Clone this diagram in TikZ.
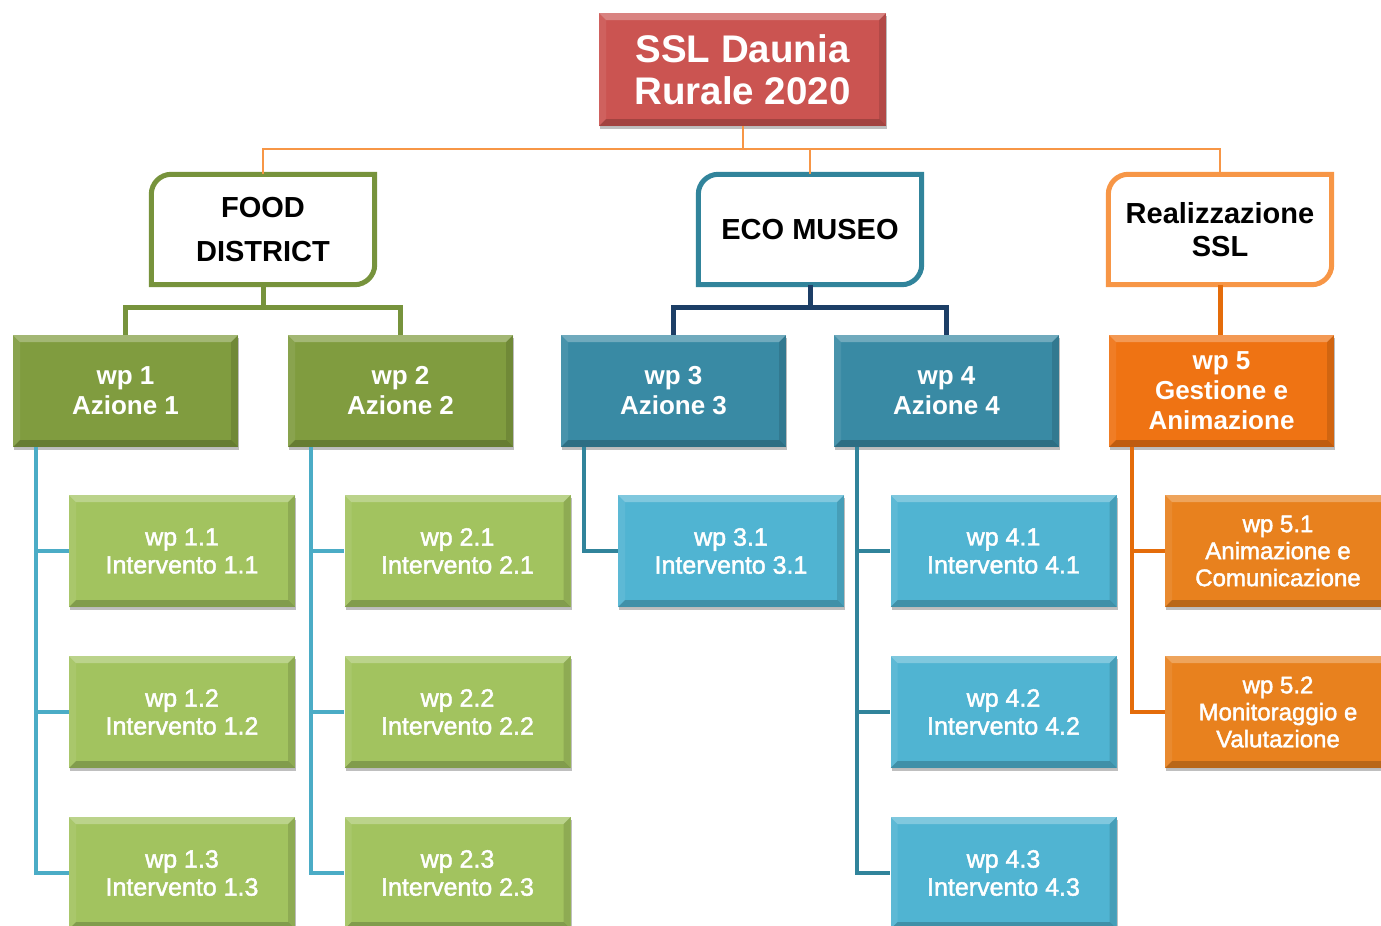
\documentclass[tikz,border=0pt]{standalone}
\usepackage{fontspec}
\setmainfont{Liberation Sans}
\newfontfamily\medfont[FakeBold=1.8]{Liberation Sans}
\usetikzlibrary{calc,shadows}

\definecolor{titlered}{RGB}{203,84,81}
\definecolor{olive}{RGB}{119,147,60}
\definecolor{olivebox}{RGB}{128,156,63}
\definecolor{limebox}{RGB}{162,195,95}
\definecolor{tealline}{RGB}{49,132,155}
\definecolor{tealbox}{RGB}{57,138,164}
\definecolor{skybox}{RGB}{80,180,210}
\definecolor{skyline}{RGB}{75,172,198}
\definecolor{navyline}{RGB}{28,62,102}
\definecolor{lightorange}{RGB}{247,150,70}
\definecolor{deeporange}{RGB}{228,108,10}
\definecolor{orangebox}{RGB}{239,115,19}
\definecolor{orangesub}{RGB}{232,129,30}

\tikzset{
  bevel/.style={path picture={
    \fill[white,opacity=.28] (path picture bounding box.north west) -- (path picture bounding box.north east)
      -- ([xshift=-7pt,yshift=-7pt]path picture bounding box.north east)
      -- ([xshift=7pt,yshift=-7pt]path picture bounding box.north west) -- cycle;
    \fill[white,opacity=.08] (path picture bounding box.north west) -- ([xshift=7pt,yshift=-7pt]path picture bounding box.north west)
      -- ([xshift=7pt,yshift=7pt]path picture bounding box.south west) -- (path picture bounding box.south west) -- cycle;
    \fill[black,opacity=.2] (path picture bounding box.south west) -- (path picture bounding box.south east)
      -- ([xshift=-7pt,yshift=7pt]path picture bounding box.south east)
      -- ([xshift=7pt,yshift=7pt]path picture bounding box.south west) -- cycle;
    \fill[black,opacity=.12] (path picture bounding box.north east) -- ([xshift=-7pt,yshift=-7pt]path picture bounding box.north east)
      -- ([xshift=-7pt,yshift=7pt]path picture bounding box.south east) -- (path picture bounding box.south east) -- cycle;
  }},
  boxshadow/.style={drop shadow={shadow xshift=1pt,shadow yshift=-3pt,opacity=.25,fill=black}},
  titlebox/.style={rectangle,inner sep=0pt,minimum width=287pt,minimum height=113pt,fill=titlered,
    text=white,align=center,font=\fontsize{38.5}{42}\selectfont\bfseries,bevel,boxshadow},
  headbox/.style={rectangle,inner sep=0pt,minimum width=223pt,minimum height=110pt,
    text=black,align=center,font=\fontsize{29}{33}\selectfont\bfseries},
  actionbox/.style={rectangle,inner sep=0pt,minimum width=225pt,minimum height=112pt,
    text=white,align=center,font=\fontsize{26}{30}\selectfont\bfseries,bevel,boxshadow},
  workbox/.style={rectangle,inner sep=0pt,minimum width=226pt,minimum height=112pt,
    text=white,align=center,font=\fontsize{25}{28}\selectfont\medfont,bevel,boxshadow},
  bus/.style={draw=lightorange,line width=2pt},
  branch/.style={line width=5pt},
  twig/.style={line width=4pt},
}

% frame with rounded top-left and bottom-right corners
\newcommand\diagframe[2]{%
  \draw[line width=5pt,#2] (#1.south west) -- ([yshift=-20pt]#1.north west) arc(180:90:20pt)
    -- (#1.north east) -- ([yshift=20pt]#1.south east) arc(0:-90:20pt) -- cycle;}

\begin{document}
\begin{tikzpicture}[x=1pt,y=1pt]
\useasboundingbox (0,0) rectangle (1381,-926);
\clip (0,0) rectangle (1381,-926);

% root
\node[titlebox] (root) at (742.5,-69.5) {SSL Daunia\\Rurale 2020};

% headings
\node[headbox] (food) at (263,-229.5) {FOOD\\[11pt]DISTRICT};
\node[headbox] (eco) at (810,-229.5) {ECO MUSEO};
\node[headbox] (real) at (1220,-229.5) {Realizzazione\\SSL};
\diagframe{food}{olive}
\diagframe{eco}{tealline}
\diagframe{real}{lightorange}

% work packages
\node[actionbox,fill=olivebox] (wp1) at (125.5,-391) {wp 1\\Azione 1};
\node[actionbox,fill=olivebox] (wp2) at (400.5,-391) {wp 2\\Azione 2};
\node[actionbox,fill=tealbox] (wp3) at (673.5,-391) {wp 3\\Azione 3};
\node[actionbox,fill=tealbox] (wp4) at (946.5,-391) {wp 4\\Azione 4};
\node[actionbox,fill=orangebox] (wp5) at (1221.5,-391) {wp 5\\Gestione e\\Animazione};

% interventions
\node[workbox,fill=limebox] (wp11) at (182,-551) {wp 1.1\\Intervento 1.1};
\node[workbox,fill=limebox] (wp12) at (182,-712) {wp 1.2\\Intervento 1.2};
\node[workbox,fill=limebox] (wp13) at (182,-873) {wp 1.3\\Intervento 1.3};
\node[workbox,fill=limebox] (wp21) at (457.5,-551) {wp 2.1\\Intervento 2.1};
\node[workbox,fill=limebox] (wp22) at (457.5,-712) {wp 2.2\\Intervento 2.2};
\node[workbox,fill=limebox] (wp23) at (457.5,-873) {wp 2.3\\Intervento 2.3};
\node[workbox,fill=skybox] (wp31) at (731,-551) {wp 3.1\\Intervento 3.1};
\node[workbox,fill=skybox] (wp41) at (1003.5,-551) {wp 4.1\\Intervento 4.1};
\node[workbox,fill=skybox] (wp42) at (1003.5,-712) {wp 4.2\\Intervento 4.2};
\node[workbox,fill=skybox] (wp43) at (1003.5,-873) {wp 4.3\\Intervento 4.3};
\node[workbox,fill=orangesub,font=\fontsize{24}{27}\selectfont\medfont] (wp51) at (1278,-551) {wp 5.1\\Animazione e\\Comunicazione};
\node[workbox,fill=orangesub,font=\fontsize{24}{27}\selectfont\medfont] (wp52) at (1278,-712) {wp 5.2\\Monitoraggio e\\Valutazione};

% root to headings
\coordinate (rootbus) at ($(root.south)+(0,-23)$);
\draw[bus] (root.south) -- (rootbus) -| (food.north);
\draw[bus] (rootbus) -| (eco.north);
\draw[bus] (rootbus) -| (real.north);

% headings to work packages
\coordinate (foodbus) at ($(food.south)+(0,-23)$);
\draw[branch,olive] (food.south) -- (foodbus) -| (wp1.north);
\draw[branch,olive] (foodbus) -| (wp2.north);
\coordinate (ecobus) at ($(eco.south)+(0,-23)$);
\draw[branch,navyline] (eco.south) -- (ecobus) -| (wp3.north);
\draw[branch,navyline] (ecobus) -| (wp4.north);
\draw[branch,deeporange] (real.south) -- (real.south |- wp5.north);

% work packages to interventions
\foreach \p/\c/\col in {wp1/wp11/skyline,wp1/wp12/skyline,wp1/wp13/skyline,
                        wp2/wp21/skyline,wp2/wp22/skyline,wp2/wp23/skyline,
                        wp3/wp31/tealline,
                        wp4/wp41/tealline,wp4/wp42/tealline,wp4/wp43/tealline,
                        wp5/wp51/deeporange,wp5/wp52/deeporange}
  \draw[twig,\col] ([xshift=23pt]\p.south west) |- (\c.west);
\end{tikzpicture}
\end{document}
